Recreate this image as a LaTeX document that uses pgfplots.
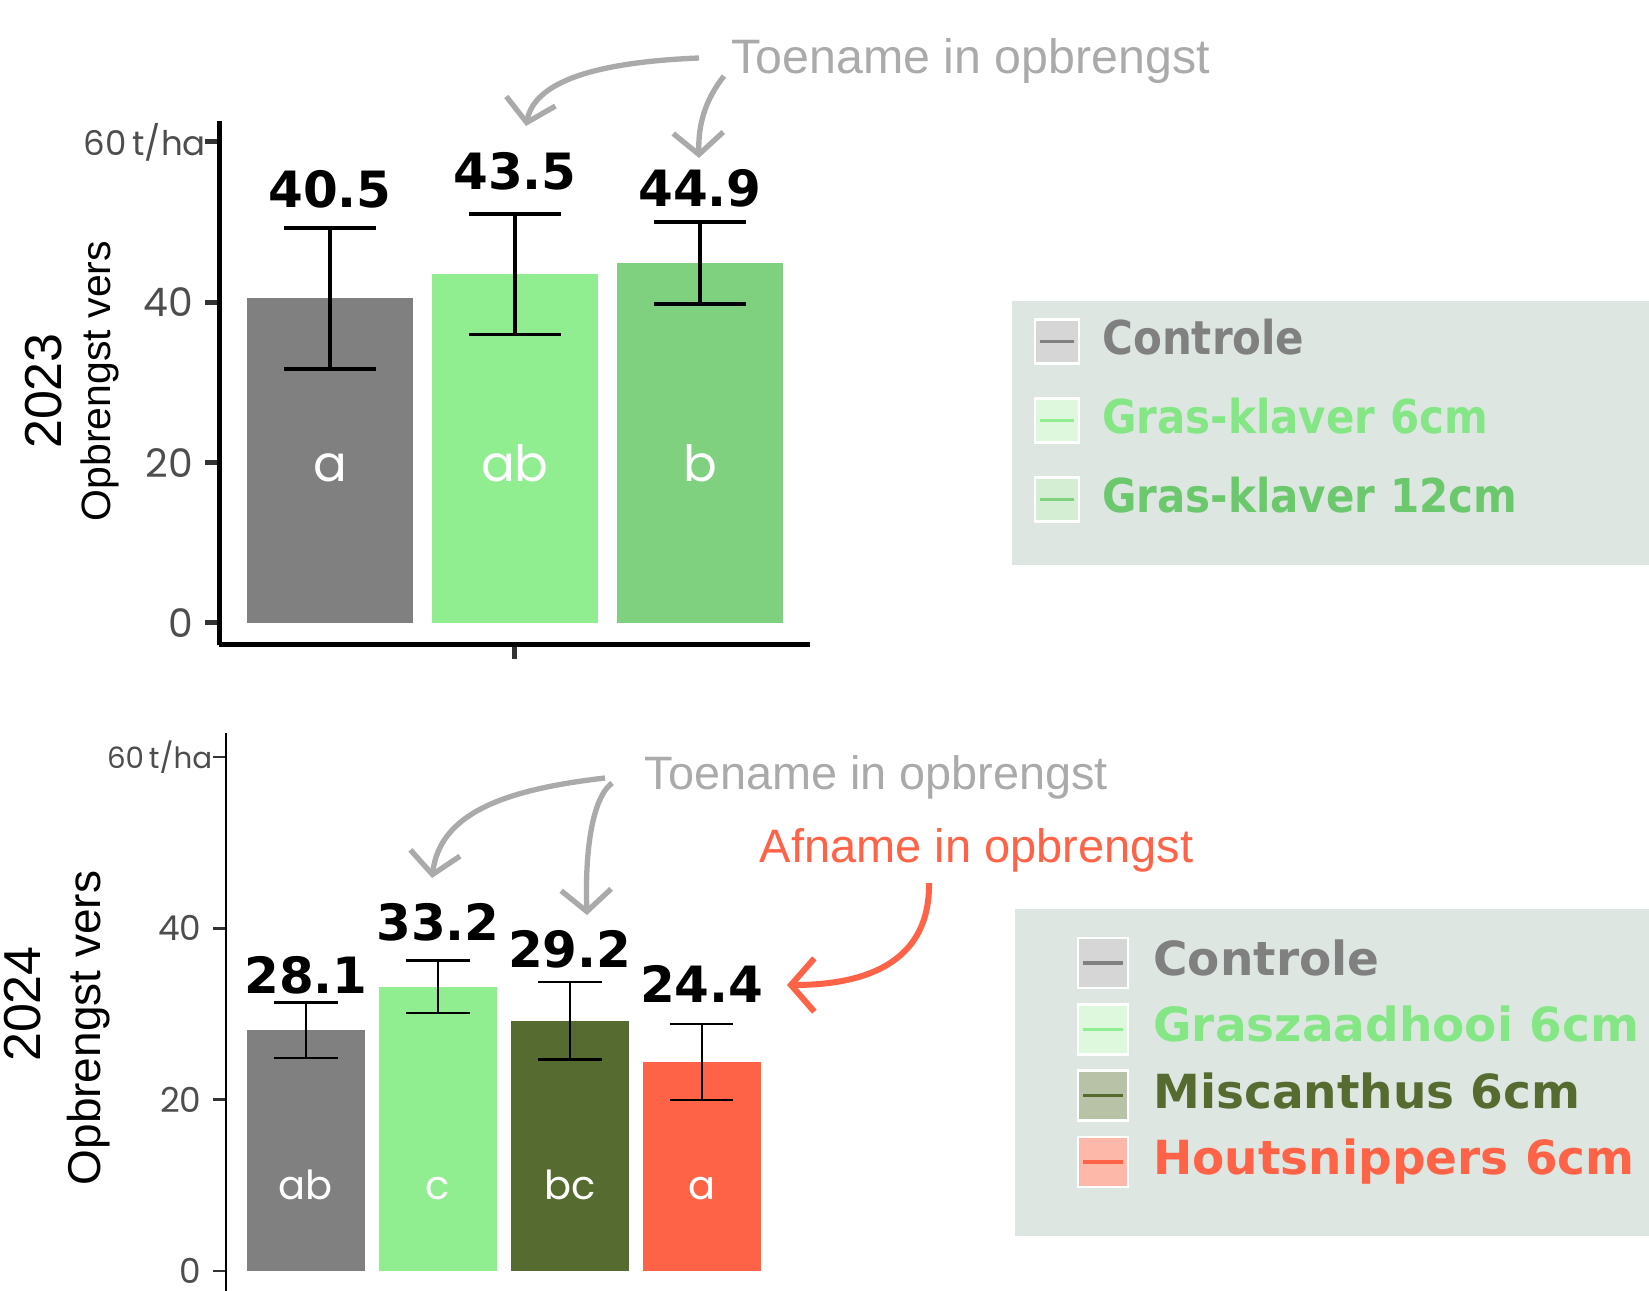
\documentclass[border=0pt]{standalone}
\usepackage{pgfplots}
\pgfplotsset{compat=1.18}
\usetikzlibrary{arrows.meta}
\usepackage{fontspec}
\setmainfont{Liberation Sans}
\newfontfamily\valfont{DejaVu Sans}
\newfontfamily\legAfont[FakeStretch=0.9]{DejaVu Sans}
\newfontfamily\tickfont{Poppins}
\definecolor{cCon}{HTML}{808080}
\definecolor{cG6}{HTML}{90EE90}
\definecolor{cG12}{HTML}{7FD17F}
\definecolor{cMis}{HTML}{556B2F}
\definecolor{cHout}{HTML}{FF6347}
\definecolor{tG6}{HTML}{84E684}
\definecolor{tG12}{HTML}{6CC86C}
\definecolor{sCon}{HTML}{D6D6D6}
\definecolor{sG6}{HTML}{DDF8DD}
\definecolor{sG12}{HTML}{D4EED4}
\definecolor{sMis}{HTML}{B7C2A6}
\definecolor{sHout}{HTML}{FDB8AA}
\definecolor{legbg}{RGB}{221,230,225}
\definecolor{annog}{HTML}{AAAAAA}
\definecolor{tickc}{HTML}{4D4D4D}
\pgfplotsset{
  legT/.style 2 args={legend image code/.code={
    \path[fill=#2, draw=white, line width=0.8pt] (0pt,-6.6pt) rectangle (13.2pt,6.6pt);
    \draw[draw=#1, line width=1pt] (1.4pt,0pt) -- (11.8pt,0pt);
  }},
  legB/.style 2 args={legend image code/.code={
    \path[fill=#2, draw=white, line width=0.8pt] (0pt,-7.5pt) rectangle (15pt,7.5pt);
    \draw[draw=#1, line width=1pt] (1.5pt,0pt) -- (13.5pt,0pt);
  }},
  ebT/.style={error bars/.cd, y dir=both, y explicit,
    error bar style={line width=1.05pt, black},
    error mark options={rotate=90, mark size=13.8pt, line width=1.05pt, black},
    /pgfplots/.cd},
  ebB/.style={error bars/.cd, y dir=both, y explicit,
    error bar style={line width=0.65pt, black},
    error mark options={rotate=90, mark size=9.5pt, line width=0.65pt, black},
    /pgfplots/.cd},
}
\begin{document}
\begin{tikzpicture}
\useasboundingbox (0pt,0pt) rectangle (494.7pt,-387.3pt);
\clip (0pt,0pt) rectangle (494.7pt,-387.3pt);
\begin{scope}[x=0.3pt,y=-0.3pt]
  \fill[legbg] (1012,301) rectangle (1700,565);
  \fill[legbg] (1015,909) rectangle (1700,1236);
\end{scope}

% ---------------- 2023 ----------------
\begin{axis}[
  at={(65.7pt,-193.5pt)}, anchor=south west,
  scale only axis, width=177.3pt, height=157.2pt,
  xmin=-0.6, xmax=2.595, ymin=-2.75, ymax=62.62,
  axis x line*=bottom, axis y line*=left,
  axis line style={line width=1.5pt, black, -},
  ytick={0,20,40,60},
  yticklabels={0,20,40,{\makebox[0pt][r]{\fontsize{10.2}{11}\selectfont 60\,t/ha\kern-3.8pt}}},
  xtick={1}, xticklabels={},
  tick align=outside, major tick length=4.2pt,
  tick style={line width=1.5pt, color=black!80},
  /pgf/number format/assume math mode=true,
  yticklabel style={font=\tickfont\fontsize{11.8}{12}\selectfont, text=tickc},
  ybar, bar width=0.9, bar shift=0pt,
  clip=false,
  legend style={at={(1.3773,0.6244)}, anchor=north west, fill=none, draw=none,
    inner sep=0pt, column sep=6.6pt, row sep=9.7pt,
    font=\legAfont\bfseries\fontsize{14}{16}\selectfont,
    nodes={inner sep=0pt, text height=10.5pt, text depth=3pt}},
  legend cell align=left,
]
\addplot[fill=cCon, draw=none, legT={cCon}{sCon}, ebT] coordinates {(0,40.5) +- (0,8.8)};
\addlegendentry{\textcolor{cCon}{Controle}}
\addplot[fill=cG6, draw=none, legT={cG6}{sG6}, ebT] coordinates {(1,43.5) +- (0,7.5)};
\addlegendentry{\textcolor{tG6}{Gras-klaver 6cm}}
\addplot[fill=cG12, draw=none, legT={cG12}{sG12}, ebT] coordinates {(2,44.9) +- (0,5.1)};
\addlegendentry{\textcolor{tG12}{Gras-klaver 12cm}}
\begin{scope}[font=\valfont\bfseries\fontsize{15}{16}\selectfont]
  \node at (axis cs:0,54.1) {40.5};
  \node at (axis cs:1,56.4) {43.5};
  \node at (axis cs:2,54.25) {44.9};
\end{scope}
\begin{scope}[font=\tickfont\fontsize{15}{16}\selectfont, text=white]
  \node[anchor=base] at (axis cs:0,17.6) {a};
  \node[anchor=base] at (axis cs:1,17.6) {ab};
  \node[anchor=base] at (axis cs:2,17.6) {b};
\end{scope}
\end{axis}

% ---------------- 2024 ----------------
\begin{axis}[
  at={(67.8pt,-387.3pt)}, anchor=south west,
  scale only axis, width=166.5pt, height=167.4pt,
  xmin=-0.606, xmax=3.6, ymin=-2.33, ymax=62.8,
  axis y line*=left, axis x line=none,
  axis line style={line width=0.8pt, black, -},
  ytick={0,20,40,60},
  yticklabels={0,20,40,{\makebox[0pt][r]{\fontsize{8.8}{9}\selectfont 60\,t/ha\kern-3.2pt}}},
  tick align=outside, major tick length=3.8pt,
  tick style={line width=0.8pt, color=black!80},
  /pgf/number format/assume math mode=true,
  yticklabel style={font=\tickfont\fontsize{10.3}{11}\selectfont, text=tickc},
  ybar, bar width=0.894, bar shift=0pt,
  clip=false,
  legend style={at={(1.5315,0.6365)}, anchor=north west, fill=none, draw=none,
    inner sep=0pt, column sep=7.2pt, row sep=4.1pt,
    font=\valfont\bfseries\fontsize{14.1}{15}\selectfont,
    nodes={inner sep=0pt, text height=10.5pt, text depth=3pt}},
  legend cell align=left,
]
\addplot[fill=cCon, draw=none, legB={cCon}{sCon}, ebB] coordinates {(0,28.1) +- (0,3.25)};
\addlegendentry{\textcolor{cCon}{Controle}}
\addplot[fill=cG6, draw=none, legB={cG6}{sG6}, ebB] coordinates {(1,33.2) +- (0,3.05)};
\addlegendentry{\textcolor{tG6}{Graszaadhooi 6cm}}
\addplot[fill=cMis, draw=none, legB={cMis}{sMis}, ebB] coordinates {(2,29.2) +- (0,4.5)};
\addlegendentry{\textcolor{cMis}{Miscanthus 6cm}}
\addplot[fill=cHout, draw=none, legB={cHout}{sHout}, ebB] coordinates {(3,24.4) +- (0,4.4)};
\addlegendentry{\textcolor{cHout}{Houtsnippers 6cm}}
\begin{scope}[font=\valfont\bfseries\fontsize{15}{16}\selectfont]
  \node at (axis cs:0,34.5) {28.1};
  \node at (axis cs:1,40.7) {33.2};
  \node at (axis cs:2,37.6) {29.2};
  \node at (axis cs:3,33.5) {24.4};
\end{scope}
\begin{scope}[font=\tickfont\fontsize{12}{13}\selectfont, text=white]
  \node[anchor=base] at (axis cs:0,8.3) {ab};
  \node[anchor=base] at (axis cs:1,8.3) {c};
  \node[anchor=base] at (axis cs:2,8.3) {bc};
  \node[anchor=base] at (axis cs:3,8.3) {a};
\end{scope}
\end{axis}

% ---------------- labels and annotations ----------------
\begin{scope}[x=0.3pt,y=-0.3pt]
  \node[rotate=90, font=\fontsize{15.6}{16}\selectfont] at (44,391) {2023};
  \node[rotate=90, font=\fontsize{12.3}{13}\selectfont] at (100,381) {Opbrengst vers};
  \node[rotate=90, font=\fontsize{15.6}{16}\selectfont] at (23,1004) {2024};
  \node[rotate=90, font=\fontsize{13.8}{14}\selectfont] at (89,1028) {Opbrengst vers};

  \node[anchor=base west, inner sep=0pt, text=annog, font=\fontsize{14.5}{15}\selectfont] at (731,74) {Toename in opbrengst};
  \node[anchor=base west, inner sep=0pt, text=annog, font=\fontsize{14.05}{15}\selectfont] at (644,789) {Toename in opbrengst};
  \node[anchor=base west, inner sep=0pt, text=cHout, font=\fontsize{14.1}{15}\selectfont] at (759,862) {Afname in opbrengst};

  \begin{scope}[annog, line width=1.6pt, -{Straight Barb[length=6.5pt,width=15pt,line width=1.6pt]}]
    \draw (699,58) .. controls (600,62) and (535,80) .. (526,126);
    \draw (724,76) .. controls (705,100) and (698,125) .. (699,158);
    \draw (605,778) .. controls (500,790) and (440,815) .. (432,878);
    \draw (612,783) .. controls (590,800) and (585,860) .. (587,915);
  \end{scope}
  \draw[cHout, line width=1.8pt, -{Straight Barb[length=7pt,width=16pt,line width=1.8pt]}]
    (929,883) .. controls (930,960) and (870,985) .. (787,985);
\end{scope}
\end{tikzpicture}
\end{document}
